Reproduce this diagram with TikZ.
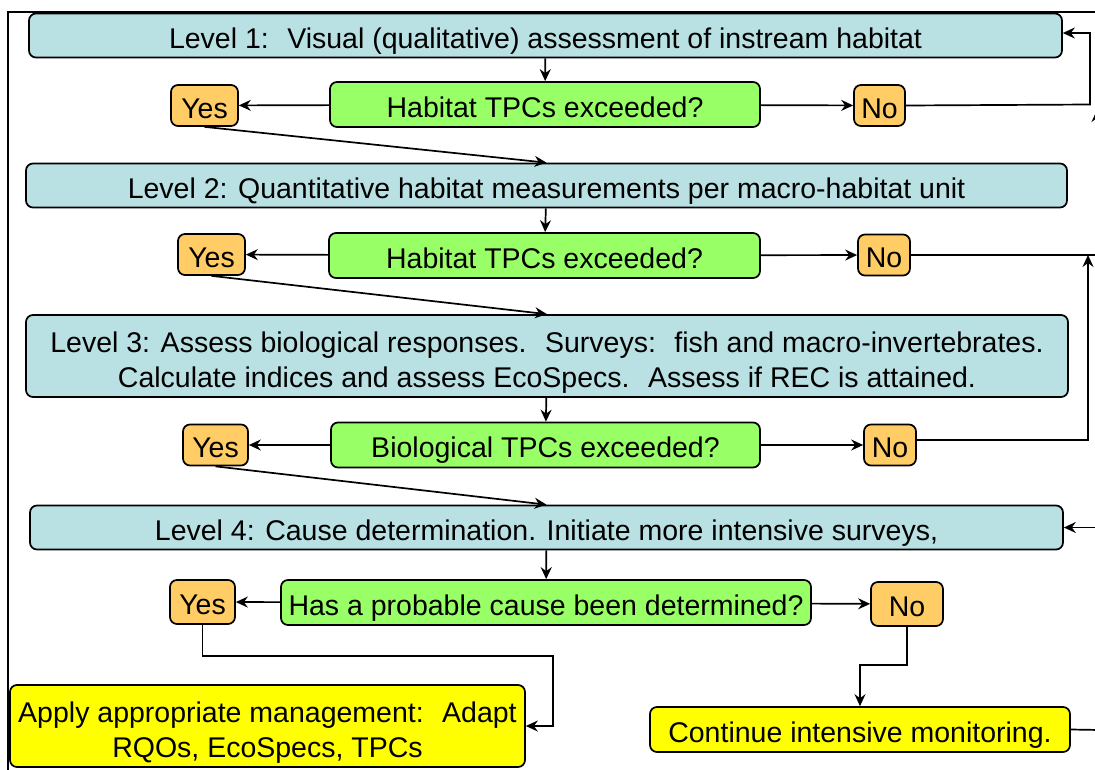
\documentclass[tikz,border=0pt]{standalone}
\usepackage{fontspec}
\setmainfont{Liberation Sans}
\usetikzlibrary{positioning}
\usetikzlibrary{calc}
\usetikzlibrary{arrows.meta}

\definecolor{levelblue}{HTML}{B9E0E3}
\definecolor{askgreen}{HTML}{99FF66}
\definecolor{ansorange}{HTML}{FFCC66}
\definecolor{actyellow}{HTML}{FFFF00}

\tikzset{
	box/.style={draw,rounded corners=7pt,line width=1.7pt,inner sep=0pt,text height=25.5pt,text depth=0pt,align=center,font=\fontsize{28.5}{35}\selectfont},
	twolines/.style={text height=62pt},
	level/.style={box,fill=levelblue,minimum height=44pt},
	ask/.style={box,fill=askgreen,minimum height=45pt},
	ans/.style={box,fill=ansorange,minimum height=41pt},
	act/.style={box,fill=actyellow},
	flow/.style={line width=1.7pt,-{Stealth[length=12pt,width=11pt,inset=4pt]}},
	link/.style={line width=1.7pt}
}

\begin{document}
\begin{tikzpicture}[x=1pt,y=-1pt]
	\useasboundingbox (0,0) rectangle (1095,769);
	\draw[line width=2pt] (8,775) -- (8,12) -- (1100,12);
	
	% levels and questions
	\node[level,minimum width=1033pt] (lev1) at (545.5,35.5) {Level 1:~ Visual (qualitative) assessment of instream habitat};
	\node[ask,minimum width=430pt] (ask1) at (545,104.5) {Habitat TPCs exceeded?};
	\node[ans,minimum width=67pt] (yes1) at (204.5,105.5) {Yes};
	\node[ans,minimum width=51pt] (no1) at (879.5,105.5) {No};
	
	\node[level,minimum width=1041pt] (lev2) at (546.5,185.5) {Level 2: Quantitative habitat measurements per macro-habitat unit};
	\node[ask,minimum width=431pt] (ask2) at (544.5,255.5) {Habitat TPCs exceeded?};
	\node[ans,minimum width=67pt] (yes2) at (211.5,254.5) {Yes};
	\node[ans,minimum width=52pt] (no2) at (884,255) {No};
	
	\node[level,twolines,minimum width=1042pt,minimum height=82pt] (lev3) at (547,356) {Level 3: Assess biological responses.~ Surveys:~ fish and macro-invertebrates.\\ Calculate indices and assess EcoSpecs.~ Assess if REC is attained.};
	\node[ask,minimum width=429pt] (ask3) at (545.5,445) {Biological TPCs exceeded?};
	\node[ans,minimum width=65pt] (yes3) at (215.5,445) {Yes};
	\node[ans,minimum width=52pt] (no3) at (890,445) {No};
	
	\node[level,minimum width=1033pt] (lev4) at (546.5,527.5) {Level 4: Cause determination. Initiate more intensive surveys,};
	\node[ask,minimum width=530pt] (ask4) at (546,602.5) {Has a probable cause been determined?};
	\node[ans,minimum width=65pt,minimum height=44pt] (yes4) at (202.5,602) {Yes};
	\node[ans,minimum width=72pt,minimum height=44pt] (no4) at (907,604) {No};
	
	\node[act,twolines,minimum width=515pt,minimum height=82pt] (apply) at (267.5,726) {Apply appropriate management:~ Adapt\\ RQOs, EcoSpecs, TPCs};
	\node[act,minimum width=420pt,minimum height=45pt] (cont) at (860,729.5) {Continue intensive monitoring.};
	
	% connectors
	\coordinate (r1) at (1090,104.5);
	\coordinate (r1top) at (1090,33);
	\coordinate (r2) at (1097,255);
	\coordinate (r2top) at (1097,110);
	\coordinate (r3) at (1088,440);
	\coordinate (r3top) at (1088,255);
	\coordinate (r4) at (1100,527.5);
	\coordinate (r5) at (1100,730);
	
	\foreach \i/\j in {1/2,2/3,3/4} {
		\draw[flow] (lev\i) -- (ask\i);
		\draw[flow] (ask\i) -- (yes\i);
		\draw[flow] (ask\i) -- (no\i);
		\draw[flow] (yes\i.south) -- (lev\j.north);
	}
	\draw[flow] (lev4) -- (ask4);
	\draw[flow] (ask4) -- (yes4);
	\draw[flow] (ask4) -- (no4);
	
	\draw[flow] (no1.east) -- (r1) -- (r1top) -- (lev1.east |- r1top);
	\draw[flow] (no2.east) -- (r2) -- (r2top);
	\draw[flow] (no3.east |- r3) -- (r3) -- (r3top);
	\draw[flow] (r4) -- (lev4.east);
	\draw[link] (cont.east) -- (r5);
	
	\draw[flow] (yes4.south) -- ++(0,31) -| ($(apply.east)+(27,0)$) -- (apply.east);
	\draw[flow] (no4.south) -- ++(0,38) -| (cont.north);
\end{tikzpicture}
\end{document}
